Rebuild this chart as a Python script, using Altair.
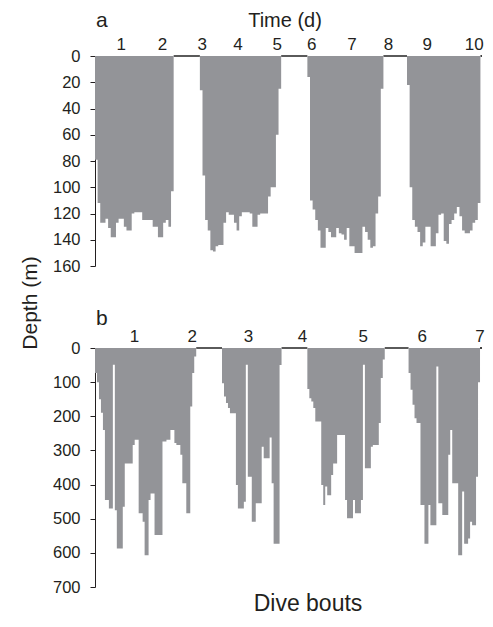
import altair as alt
import pandas as pd

# ---------------- data ----------------
# Panel a: maximum depth (m) of successive dives, four bouts
a_bout1 = [79, 112, 127, 127, 124, 131, 138, 138, 127, 124, 124, 130, 133, 133, 120,
           119, 119, 119, 125, 125, 125, 125, 130, 130, 138, 138, 127, 125, 130, 103]
a_bout2 = [26, 91, 125, 133, 148, 149, 145, 144, 144, 127, 119, 121, 121, 127, 133, 122,
           119, 119, 119, 120, 130, 130, 121, 120, 120, 120, 107, 100, 100, 60, 25]
a_bout3 = [16, 110, 117, 125, 133, 146, 146, 131, 134, 138, 138, 131, 135, 136, 140,
           131, 145, 145, 150, 150, 150, 130, 134, 140, 146, 145, 120, 107, 25]
a_bout4 = [22, 100, 125, 130, 134, 145, 142, 130, 130, 145, 145, 135, 121, 120, 141,
           143, 128, 125, 120, 115, 122, 133, 135, 135, 133, 127, 125, 112]
a_bout_start = [0, 40, 81, 119]          # dive index at which each bout begins
a_seq_end = 147.6                        # end of record (dive index)
a_day_labels = ["1", "2", "3", "4", "5", "6", "7", "8", "9", "10"]
a_day_pos = [10.0, 25.7, 40.9, 54.5, 69.5, 82.7, 98.0, 111.9, 126.7, 144.6]
a_depth_ticks = [0, 20, 40, 60, 80, 100, 120, 140, 160]

# Panel b
b_bout1 = [73, 100, 150, 190, 240, 445, 445, 470, 470, 49, 475, 587, 587, 587, 465, 338,
           338, 338, 338, 284, 269, 269, 484, 484, 509, 607, 607, 445, 426, 426, 548, 548,
           548, 548, 274, 274, 269, 269, 240, 240, 278, 284, 284, 313, 396, 396, 484, 484,
           171, 73, 25]
b_bout2 = [103, 142, 161, 176, 191, 191, 191, 401, 470, 470, 470, 450, 49, 377, 377, 509,
           509, 455, 455, 455, 289, 323, 323, 323, 262, 396, 573, 573, 573, 50]
b_bout3 = [120, 147, 157, 176, 215, 215, 215, 401, 460, 406, 431, 431, 372, 338, 338, 255,
           255, 255, 255, 445, 499, 499, 499, 445, 484, 484, 484, 445, 49, 352, 352, 352,
           289, 284, 284, 284, 220, 88, 34]
b_bout4 = [73, 122, 166, 206, 220, 220, 460, 460, 573, 573, 460, 519, 519, 519, 54, 455,
           455, 489, 489, 489, 313, 240, 396, 396, 396, 607, 607, 420, 573, 573, 558, 509,
           519, 519, 377, 100]
b_bout_start = [0, 64, 107, 158]
b_seq_end = 195
b_bout_labels = ["1", "2", "3", "4", "5", "6", "7"]
b_bout_pos = [19.85, 49.0, 77.35, 104.5, 135.15, 164.85, 194.0]
b_depth_ticks = [0, 100, 200, 300, 400, 500, 600, 700]

GRAY = "#939498"
INK = "#231f20"
FONT = "Liberation Sans"
W = 387


def dives_df(bouts, starts):
    # step profile: each dive holds its depth until the next one starts
    rows = []
    for k, (bout, s) in enumerate(zip(bouts, starts)):
        for i, d in enumerate(bout):
            rows.append({"bout": k, "x": s + i, "top": 0, "depth": d})
        rows.append({"bout": k, "x": s + len(bout), "top": 0, "depth": bout[-1]})
    return pd.DataFrame(rows)


def surface_df(bouts, starts, end):
    rows = []
    ends = [s + len(b) for b, s in zip(bouts, starts)]
    nxt = list(starts[1:]) + [end]
    for e, n in zip(ends, nxt):
        rows.append({"x": e, "x2": n, "y": 0})
    return pd.DataFrame(rows)


def panel(bouts, starts, end, ymax, yticks, lab_pos, lab_txt, height, letter, extra):
    xs = alt.Scale(domain=[0, end], nice=False, zero=False)
    ys = alt.Scale(domain=[0, ymax], reverse=True, nice=False)
    yaxis = alt.Axis(
        values=yticks, title=None, grid=False, tickSize=5, labelFontSize=16.5,
        labelPadding=10, labelColor=INK, domainColor=INK, tickColor=INK,
        labelFont=FONT, domainWidth=1, tickWidth=1, labelOverlap=False)
    surf = alt.Chart(surface_df(bouts, starts, end)).mark_rule(
        color="black", strokeWidth=1.3
    ).encode(
        x=alt.X("x:Q", scale=xs, axis=None),
        x2="x2:Q",
        y=alt.Y("y:Q", scale=ys, axis=yaxis),
    )
    dives = alt.Chart(dives_df(bouts, starts)).mark_area(
        color=GRAY, interpolate="step-after", opacity=1
    ).encode(
        x=alt.X("x:Q", scale=xs, axis=None),
        y=alt.Y("depth:Q", scale=ys, axis=yaxis),
        y2="top:Q",
        detail="bout:N",
    )
    labs = alt.Chart(pd.DataFrame({"pos": lab_pos, "lab": lab_txt})).mark_text(
        fontSize=17, font=FONT, color=INK, baseline="alphabetic", align="center"
    ).encode(x=alt.X("pos:Q", scale=xs), y=alt.value(-6), text="lab:N")
    let = alt.Chart(pd.DataFrame({"t": [letter]})).mark_text(
        fontSize=21, font=FONT, color=INK, baseline="alphabetic", align="left"
    ).encode(x=alt.value(1), y=alt.value(-29 if letter == "a" else -23), text="t:N")
    layers = [surf, dives, labs, let] + extra
    return alt.layer(*layers).properties(width=W, height=height)


# invisible anchor that fixes the outer (left/top) bounds of the figure
anchor = alt.Chart(pd.DataFrame({"k": [0]})).mark_rule(
    strokeOpacity=0, strokeWidth=1
).encode(x=alt.value(-86.5), y=alt.value(-47.5), y2=alt.value(-40))

time_title = alt.Chart(pd.DataFrame({"t": ["Time (d)"]})).mark_text(
    fontSize=20, font=FONT, color=INK, baseline="alphabetic", align="center"
).encode(x=alt.value(190), y=alt.value(-29.3), text="t:N")
depth_title = alt.Chart(pd.DataFrame({"t": ["Depth (m)"]})).mark_text(
    fontSize=21, font=FONT, color=INK, baseline="alphabetic", align="center", angle=270
).encode(x=alt.value(-58), y=alt.value(247), text="t:N")
bout_title = alt.Chart(pd.DataFrame({"t": ["Dive bouts"]})).mark_text(
    fontSize=23, font=FONT, color=INK, baseline="alphabetic", align="center"
).encode(x=alt.value(213), y=alt.value(263), text="t:N")

pa = panel([a_bout1, a_bout2, a_bout3, a_bout4], a_bout_start, a_seq_end, 160,
           a_depth_ticks, a_day_pos, a_day_labels, 210, "a",
           [time_title, depth_title, anchor])
pb = panel([b_bout1, b_bout2, b_bout3, b_bout4], b_bout_start, b_seq_end, 700,
           b_depth_ticks, b_bout_pos, b_bout_labels, 239, "b", [bout_title])

chart = alt.vconcat(pa, pb, spacing=82, bounds="flush").properties(
    padding=0, background="white"
).configure_view(stroke=None).configure_text(font=FONT)

chart.save("out.html", embed_options={"renderer": "svg", "actions": False})
